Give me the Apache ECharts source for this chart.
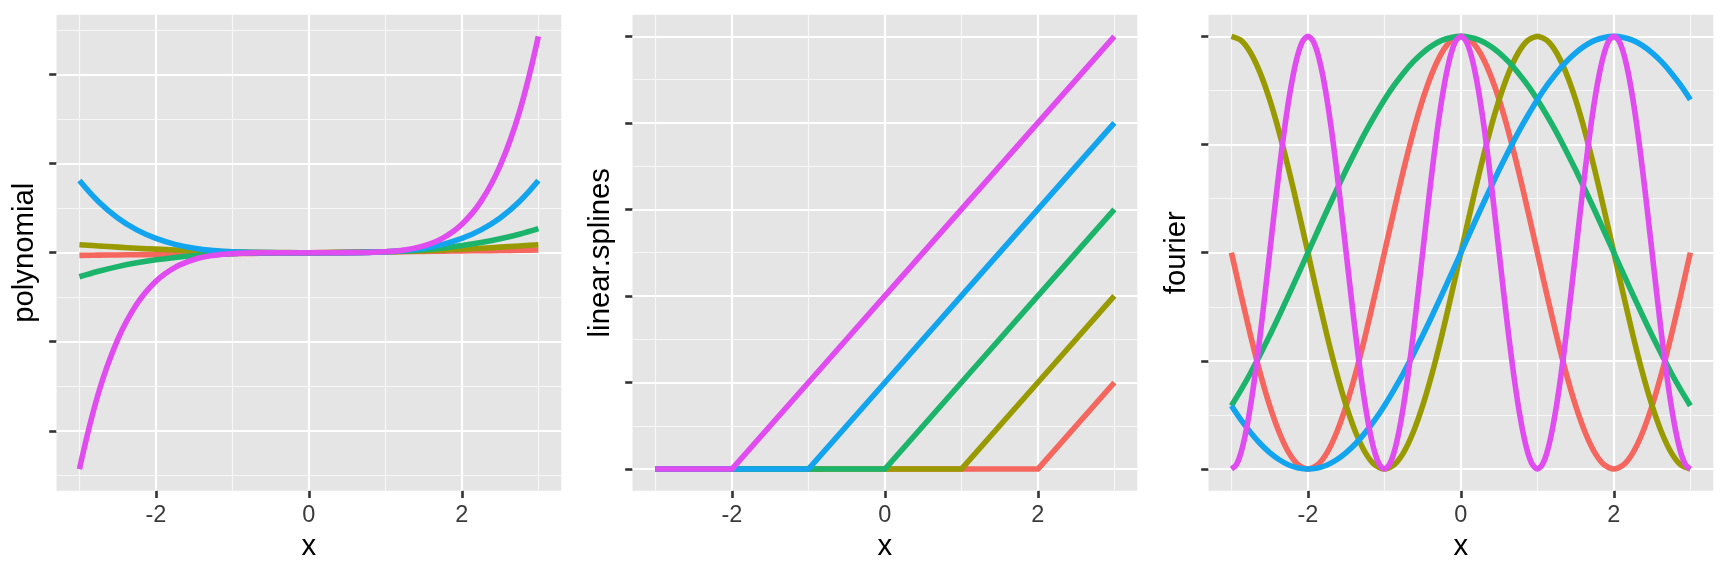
<!DOCTYPE html>
<html><head><meta charset="utf-8">
<script src="https://cdn.jsdelivr.net/npm/echarts@6/dist/echarts.min.js"></script>
<style>html,body{margin:0;padding:0;background:#fff}#c{width:1728px;height:576px}</style>
</head><body><div id="c"></div>
<script>
// ---------- data ----------
const colors = ['#F4665E', '#999A00', '#1CB46B', '#13A4EF', '#E04CF0'];

// polynomial panel
const polyX = [-3,-2.75,-2.5,-2.25,-2,-1.75,-1.5,-1.25,-1,-0.75,-0.5,-0.25,0,0.25,0.5,0.75,1,1.25,1.5,1.75,2,2.25,2.5,2.75,3];
const polyRed = [-3,-2.75,-2.5,-2.25,-2,-1.75,-1.5,-1.25,-1,-0.75,-0.5,-0.25,0,0.25,0.5,0.75,1,1.25,1.5,1.75,2,2.25,2.5,2.75,3];
const polyOlive = [9,7.56,6.25,5.06,4,3.06,2.25,1.56,1,0.56,0.25,0.06,0,0.06,0.25,0.56,1,1.56,2.25,3.06,4,5.06,6.25,7.56,9];
const polyGreen = [-27,-20.8,-15.63,-11.39,-8,-5.36,-3.38,-1.95,-1,-0.42,-0.13,-0.02,0,0.02,0.13,0.42,1,1.95,3.38,5.36,8,11.39,15.63,20.8,27];
const polyBlue = [81,57.19,39.06,25.63,16,9.38,5.06,2.44,1,0.32,0.06,0,0,0,0.06,0.32,1,2.44,5.06,9.38,16,25.63,39.06,57.19,81];
const polyMagenta = [-243,-157.28,-97.66,-57.67,-32,-16.41,-7.59,-3.05,-1,-0.24,-0.03,0,0,0,0.03,0.24,1,3.05,7.59,16.41,32,57.67,97.66,157.28,243];

// linear splines panel
const splineX = [-3,-2,-1,0,1,2,3];
const splineRed = [0,0,0,0,0,0,1];
const splineOlive = [0,0,0,0,0,1,2];
const splineGreen = [0,0,0,0,1,2,3];
const splineBlue = [0,0,0,1,2,3,4];
const splineMagenta = [0,0,1,2,3,4,5];

// fourier panel
const fourX = [-3,-2.875,-2.75,-2.625,-2.5,-2.375,-2.25,-2.125,-2,-1.875,-1.75,-1.625,-1.5,-1.375,-1.25,-1.125,-1,-0.875,-0.75,-0.625,-0.5,-0.375,-0.25,-0.125,0,0.125,0.25,0.375,0.5,0.625,0.75,0.875,1,1.125,1.25,1.375,1.5,1.625,1.75,1.875,2,2.125,2.25,2.375,2.5,2.625,2.75,2.875,3];
const fourRed = [0,-0.195,-0.383,-0.556,-0.707,-0.831,-0.924,-0.981,-1,-0.981,-0.924,-0.831,-0.707,-0.556,-0.383,-0.195,0,0.195,0.383,0.556,0.707,0.831,0.924,0.981,1,0.981,0.924,0.831,0.707,0.556,0.383,0.195,0,-0.195,-0.383,-0.556,-0.707,-0.831,-0.924,-0.981,-1,-0.981,-0.924,-0.831,-0.707,-0.556,-0.383,-0.195,0];
const fourOlive = [1,0.981,0.924,0.831,0.707,0.556,0.383,0.195,0,-0.195,-0.383,-0.556,-0.707,-0.831,-0.924,-0.981,-1,-0.981,-0.924,-0.831,-0.707,-0.556,-0.383,-0.195,0,0.195,0.383,0.556,0.707,0.831,0.924,0.981,1,0.981,0.924,0.831,0.707,0.556,0.383,0.195,0,-0.195,-0.383,-0.556,-0.707,-0.831,-0.924,-0.981,-1];
const fourGreen = [-0.707,-0.634,-0.556,-0.471,-0.383,-0.29,-0.195,-0.098,0,0.098,0.195,0.29,0.383,0.471,0.556,0.634,0.707,0.773,0.831,0.882,0.924,0.957,0.981,0.995,1,0.995,0.981,0.957,0.924,0.882,0.831,0.773,0.707,0.634,0.556,0.471,0.383,0.29,0.195,0.098,0,-0.098,-0.195,-0.29,-0.383,-0.471,-0.556,-0.634,-0.707];
const fourBlue = [-0.707,-0.773,-0.831,-0.882,-0.924,-0.957,-0.981,-0.995,-1,-0.995,-0.981,-0.957,-0.924,-0.882,-0.831,-0.773,-0.707,-0.634,-0.556,-0.471,-0.383,-0.29,-0.195,-0.098,0,0.098,0.195,0.29,0.383,0.471,0.556,0.634,0.707,0.773,0.831,0.882,0.924,0.957,0.981,0.995,1,0.995,0.981,0.957,0.924,0.882,0.831,0.773,0.707];
// the fastest wave is read at a finer x step
const fourXFine = [-3,-2.9375,-2.875,-2.8125,-2.75,-2.6875,-2.625,-2.5625,-2.5,-2.4375,-2.375,-2.3125,-2.25,-2.1875,-2.125,-2.0625,
  -2,-1.9375,-1.875,-1.8125,-1.75,-1.6875,-1.625,-1.5625,-1.5,-1.4375,-1.375,-1.3125,-1.25,-1.1875,-1.125,-1.0625,
  -1,-0.9375,-0.875,-0.8125,-0.75,-0.6875,-0.625,-0.5625,-0.5,-0.4375,-0.375,-0.3125,-0.25,-0.1875,-0.125,-0.0625,
  0,0.0625,0.125,0.1875,0.25,0.3125,0.375,0.4375,0.5,0.5625,0.625,0.6875,0.75,0.8125,0.875,0.9375,
  1,1.0625,1.125,1.1875,1.25,1.3125,1.375,1.4375,1.5,1.5625,1.625,1.6875,1.75,1.8125,1.875,1.9375,
  2,2.0625,2.125,2.1875,2.25,2.3125,2.375,2.4375,2.5,2.5625,2.625,2.6875,2.75,2.8125,2.875,2.9375,3];
const fourMagenta = [
  -1,-0.981,-0.924,-0.831,-0.707,-0.556,-0.383,-0.195,0,0.195,0.383,0.556,0.707,0.831,0.924,0.981,
  1,0.981,0.924,0.831,0.707,0.556,0.383,0.195,0,-0.195,-0.383,-0.556,-0.707,-0.831,-0.924,-0.981,
  -1,-0.981,-0.924,-0.831,-0.707,-0.556,-0.383,-0.195,0,0.195,0.383,0.556,0.707,0.831,0.924,0.981,
  1,0.981,0.924,0.831,0.707,0.556,0.383,0.195,0,-0.195,-0.383,-0.556,-0.707,-0.831,-0.924,-0.981,
  -1,-0.981,-0.924,-0.831,-0.707,-0.556,-0.383,-0.195,0,0.195,0.383,0.556,0.707,0.831,0.924,0.981,
  1,0.981,0.924,0.831,0.707,0.556,0.383,0.195,0,-0.195,-0.383,-0.556,-0.707,-0.831,-0.924,-0.981,-1];

// ticks
const xTicks = [-2, 0, 2];
const xMinor = [-3, -1, 1, 3];
const polyYTicks = [-200, -100, 0, 100, 200];
const polyYMinor = [-250, -150, -50, 50, 150, 250];
const splineYTicks = [0, 1, 2, 3, 4, 5];
const splineYMinor = [0.5, 1.5, 2.5, 3.5, 4.5];
const fourYTicks = [-1, -0.5, 0, 0.5, 1];
const fourYMinor = [-0.75, -0.25, 0.25, 0.75];

// ---------- build ----------
const FONT = "'Liberation Sans', Arial, Helvetica, sans-serif";
const panels = [
  {title: 'polynomial', lines: [[polyX, polyRed], [polyX, polyOlive], [polyX, polyGreen], [polyX, polyBlue], [polyX, polyMagenta]],
   yMin: -267.3, yMax: 267.3, yTicks: polyYTicks, yMinor: polyYMinor, smooth: 0.4},
  {title: 'linear.splines', lines: [[splineX, splineRed], [splineX, splineOlive], [splineX, splineGreen], [splineX, splineBlue], [splineX, splineMagenta]],
   yMin: -0.25, yMax: 5.25, yTicks: splineYTicks, yMinor: splineYMinor, smooth: false},
  {title: 'fourier', lines: [[fourX, fourRed], [fourX, fourOlive], [fourX, fourGreen], [fourX, fourBlue], [fourXFine, fourMagenta]],
   yMin: -1.1, yMax: 1.1, yTicks: fourYTicks, yMinor: fourYMinor, smooth: 0.25}
];

const grids = [], xAxes = [], yAxes = [], series = [];
const W = 576, GL = 56.5, GT = 14.7, GW = 504.8, GH = 476;
const MAJOR = 2.2, MINOR = 1.1, TICKW = 2.6;

panels.forEach((p, i) => {
  grids.push({left: i * W + GL, top: GT, width: GW, height: GH, show: true,
    backgroundColor: '#E5E5E5', borderWidth: 0, outerBoundsMode: 'none', containLabel: false});
  xAxes.push({type: 'value', gridIndex: i, min: -3.3, max: 3.3, position: 'bottom',
    name: 'x', nameLocation: 'middle', nameGap: 40,
    nameTextStyle: {fontSize: 29.3, color: '#000', fontFamily: FONT},
    axisLine: {show: false, onZero: false},
    axisTick: {show: true, customValues: xTicks, length: 7.3, lineStyle: {color: '#333333', width: TICKW}},
    axisLabel: {show: true, customValues: xTicks, fontSize: 23.5, color: '#3A3A3A', margin: 13, fontFamily: FONT,
      formatter: v => String(v)},
    splitLine: {show: false}, minorSplitLine: {show: false}});
  yAxes.push({type: 'value', gridIndex: i, min: p.yMin, max: p.yMax, position: 'left',
    name: p.title, nameLocation: 'middle', nameGap: 17,
    nameTextStyle: {fontSize: 29.3, color: '#000', fontFamily: FONT},
    axisLine: {show: false, onZero: false},
    axisTick: {show: true, customValues: p.yTicks, length: 7.3, lineStyle: {color: '#333333', width: TICKW}},
    axisLabel: {show: false},
    splitLine: {show: false}, minorSplitLine: {show: false}});

  const gl = [];
  xMinor.forEach(v => gl.push({xAxis: v, lineStyle: {color: '#F7F7F7', width: MINOR, type: 'solid'}}));
  p.yMinor.forEach(v => gl.push({yAxis: v, lineStyle: {color: '#F7F7F7', width: MINOR, type: 'solid'}}));
  xTicks.forEach(v => gl.push({xAxis: v, lineStyle: {color: '#fff', width: MAJOR, type: 'solid'}}));
  p.yTicks.forEach(v => gl.push({yAxis: v, lineStyle: {color: '#fff', width: MAJOR, type: 'solid'}}));
  series.push({type: 'line', xAxisIndex: i, yAxisIndex: i, data: [], silent: true, z: 1,
    markLine: {silent: true, z: 1, symbol: ['none', 'none'], animation: false,
      label: {show: false}, emphasis: {disabled: true}, data: gl}});

  p.lines.forEach(([xs, ys], k) => {
    series.push({type: 'line', xAxisIndex: i, yAxisIndex: i, z: 3 + k,
      data: xs.map((x, j) => [x, ys[j]]),
      showSymbol: false, symbol: 'none', smooth: p.smooth, silent: true,
      lineStyle: {color: colors[k], width: 5.6, cap: 'butt', join: 'round'},
      emphasis: {disabled: true}});
  });
});

const chart = echarts.init(document.getElementById('c'), null, {renderer: 'canvas'});
chart.setOption({animation: false, backgroundColor: '#fff', grid: grids, xAxis: xAxes, yAxis: yAxes, series: series});
</script></body></html>
